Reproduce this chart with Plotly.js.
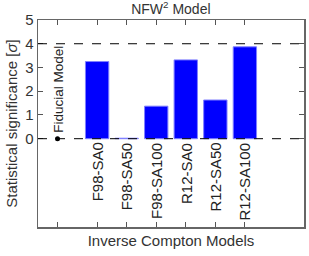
<!DOCTYPE html>
<html><head><meta charset="utf-8">
<script src="https://cdn.plot.ly/plotly-3.0.1.min.js"></script>
<style>html,body{margin:0;padding:0;background:#fff}#c{width:309px;height:256px}</style>
</head><body><div id="c"></div>
<script>
const categories = ["F98-SA0","F98-SA50","F98-SA100","R12-SA0","R12-SA50","R12-SA100"];
const xPositions = [1,2,3,4,5,6];
const significance = [3.25, 0.02, 1.37, 3.32, 1.63, 3.87];
const fiducialX = [-0.34];
const fiducialY = [0];
const fiducialLabel = "Fiducial Model";
const yTicks = [0,1,2,3,4,5];
const refLines = [0,4];

const font = "Liberation Sans, Arial, sans-serif";
const traces = [
  {type:'bar', x:xPositions, y:significance, width:0.79,
   marker:{color:'#0000ff', line:{color:'#8080ff', width:1}}, hoverinfo:'none'},
  {type:'scatter', mode:'markers', x:fiducialX, y:fiducialY,
   marker:{color:'#000', size:5}, hoverinfo:'none'}
];
const shapes = refLines.map(v => ({type:'line', xref:'paper', x0:0, x1:1, yref:'y', y0:v, y1:v,
  line:{color:'#000', width:1, dash:'dash'}}));
const annotations = categories.map((c,i) => ({x:xPositions[i], y:0, xref:'x', yref:'y', text:c,
  textangle:-90, showarrow:false, xanchor:'center', yanchor:'top', yshift:-2,
  font:{family:font, size:15, color:'#222'}}));
annotations.push({x:fiducialX[0], y:fiducialY[0], xref:'x', yref:'y', text:fiducialLabel,
  textangle:-90, showarrow:false, xanchor:'center', yanchor:'bottom', yshift:4, xshift:1,
  font:{family:font, size:13.5, color:'#222'}});

const layout = {
  width:309, height:256, margin:{l:38, r:5, t:20, b:29},
  paper_bgcolor:'#fff', plot_bgcolor:'#fff', showlegend:false,
  font:{family:font, size:15, color:'#333'},
  title:{text:'NFW<sup>2</sup> Model', x:0.553, xanchor:'center', y:0.985, yanchor:'top',
    font:{family:font, size:14, color:'#333'}},
  xaxis:{range:[-1,8], tickvals:[fiducialX[0]].concat(xPositions), showticklabels:false,
    ticks:'inside', ticklen:5, tickcolor:'#555', mirror:'ticks', showline:true, linecolor:'#666',
    linewidth:1.5, showgrid:false, zeroline:false,
    title:{text:'Inverse Compton Models', standoff:8, font:{family:font, size:15, color:'#333'}}},
  yaxis:{range:[-3.72,5], tickvals:yTicks, ticktext:yTicks.map(String), ticks:'inside', ticklen:5,
    tickcolor:'#555', mirror:'ticks', showline:true, linecolor:'#666', linewidth:1.5,
    showgrid:false, zeroline:false, tickfont:{family:font, size:15, color:'#333'},
    title:{text:'Statistical significance [<i>σ</i>]', standoff:4, font:{family:font, size:15, color:'#333'}}},
  shapes:shapes, annotations:annotations
};
Plotly.newPlot('c', traces, layout, {staticPlot:true, displayModeBar:false});
</script></body></html>
